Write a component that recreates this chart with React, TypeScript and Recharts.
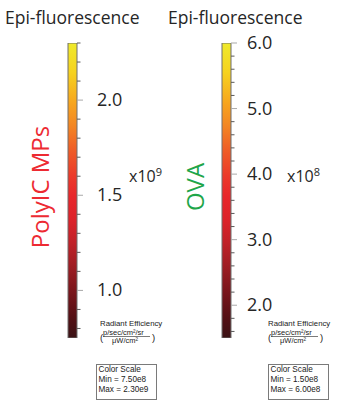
import { BarChart, Bar, XAxis, YAxis } from "recharts";

// PolyIC MPs colour bar (x10^9)
const POLY_RANGE = [0.75, 2.3];
const POLY_TICKS = [0.8, 0.9, 1.0, 1.1, 1.2, 1.3, 1.4, 1.5, 1.6, 1.7, 1.8, 1.9, 2.0, 2.1, 2.2, 2.3];
const POLY_MAJOR = [1.0, 1.5, 2.0];
const POLY_MINMAX = ["7.50e8", "2.30e9"];

// OVA colour bar (x10^8)
const OVA_RANGE = [1.5, 6.0];
const OVA_TICKS = [1.6, 1.8, 2.0, 2.2, 2.4, 2.6, 2.8, 3.0, 3.2, 3.4, 3.6, 3.8, 4.0, 4.2, 4.4, 4.6, 4.8, 5.0, 5.2, 5.4, 5.6, 5.8, 6.0];
const OVA_MAJOR = [2.0, 3.0, 4.0, 5.0, 6.0];
const OVA_MINMAX = ["1.50e8", "6.00e8"];

const FONT = "'Open Sans', 'Noto Sans', sans-serif";
const SMALL = "'Liberation Sans', Arial, sans-serif";

const GRAD_STOPS: [string, string][] = [
    ["0%", "#efea2b"],
    ["10%", "#f6d21f"],
    ["20%", "#f7a61e"],
    ["28%", "#f38623"],
    ["36%", "#ef5e27"],
    ["45%", "#eb3a2a"],
    ["52%", "#e8262b"],
    ["60%", "#dc222a"],
    ["68%", "#bf2128"],
    ["77%", "#981c22"],
    ["86%", "#72141a"],
    ["93%", "#541015"],
    ["100%", "#3a1215"],
];

function makeTick(majors: number[], dx: number) {
    return (props: any) => {
        const { x, y, payload } = props;
        const v = payload.value as number;
        const major = majors.some((m) => Math.abs(m - v) < 1e-6);
        return (
            <g>
                <line x1={x} x2={x + (major ? 6 : 3.5)} y1={y} y2={y} stroke={major ? "#a9a9a9" : "#5a5a5a"} strokeWidth={1} />
                {major ? (
                    <text x={x + dx} y={y} dy={-1} dominantBaseline="central" fontFamily={FONT} fontSize={18} fill="#262626">
                        {v.toFixed(1)}
                    </text>
                ) : null}
            </g>
        );
    };
}

function ColorBar({ left, range, ticks, majors, dx, id }: { left: number; range: number[]; ticks: number[]; majors: number[]; dx: number; id: string }) {
    const data = [{ name: id, range }];
    return (
        <div style={{ position: "absolute", left, top: 30 }}>
            <BarChart width={100} height={313} data={data} margin={{ top: 13, right: 0, bottom: 5, left: 28 }} barCategoryGap={0}>
                <defs>
                    <linearGradient id={id} x1="0" y1="0" x2="0" y2="1">
                        {GRAD_STOPS.map(([o, c]) => (
                            <stop key={o} offset={o} stopColor={c} />
                        ))}
                    </linearGradient>
                </defs>
                <XAxis dataKey="name" hide />
                <YAxis
                    orientation="right"
                    type="number"
                    domain={range}
                    ticks={ticks}
                    interval={0}
                    width={63}
                    tickLine={false}
                    axisLine={false}
                    tickSize={0}
                    tickMargin={0}
                    tick={makeTick(majors, dx)}
                    allowDataOverflow
                />
                <Bar dataKey="range" fill={`url(#${id})`} stroke="#6e6e6e" strokeWidth={1} isAnimationActive={false} />
            </BarChart>
        </div>
    );
}

function Units({ x, boxX, minmax }: { x: number; boxX: number; minmax: string[] }) {
    return (
        <g fontFamily={SMALL} fill="#222">
            <text x={x} y={325.5} fontSize={7.8}>Radiant Efficiency</text>
            <text x={x} y={340.5} fontSize={9.5}>(</text>
            <text x={x + 3} y={335} fontSize={7.5}>p/sec/cm²/sr</text>
            <line x1={x + 3} x2={x + 50} y1={336.5} y2={336.5} stroke="#222" strokeWidth={0.6} />
            <text x={x + 12} y={343} fontSize={7.5}>μW/cm²</text>
            <text x={x + 52} y={340.5} fontSize={9.5}>)</text>
            <rect x={boxX + 0.5} y={364.5} width={60} height={35} fill="#fff" stroke="#7a7a7a" />
            <text x={boxX + 2.5} y={372} fontSize={8.2}>Color Scale</text>
            <text x={boxX + 2.5} y={382} fontSize={8.2}>Min = {minmax[0]}</text>
            <text x={boxX + 2.5} y={392} fontSize={8.2}>Max = {minmax[1]}</text>
        </g>
    );
}

export default function App() {
    return (
        <div style={{ position: "absolute", left: 0, top: 0, width: 343, height: 403, background: "#fff" }}>
            <ColorBar left={40} range={POLY_RANGE} ticks={POLY_TICKS} majors={POLY_MAJOR} dx={20} id="gradPoly" />
            <ColorBar left={194} range={OVA_RANGE} ticks={OVA_TICKS} majors={OVA_MAJOR} dx={16} id="gradOva" />
            <svg width={343} height={403} style={{ position: "absolute", left: 0, top: 0, pointerEvents: "none" }}>
                <text x={5} y={24} fontFamily={FONT} fontSize={17.5} fill="#262626">Epi-fluorescence</text>
                <text x={168} y={24} fontFamily={FONT} fontSize={17.5} fill="#262626">Epi-fluorescence</text>

                <text transform="translate(49,187) rotate(-90)" textAnchor="middle" fontFamily={FONT} fontSize={24} fill="#ed2a32">PolyIC MPs</text>
                <text transform="translate(204,187) rotate(-90)" textAnchor="middle" fontFamily={FONT} fontSize={24} fill="#1fa64a">OVA</text>

                <text x={129} y={182} fontFamily={FONT} fontSize={16} fill="#262626">
                    x10<tspan fontSize={11} dy={-6}>9</tspan>
                </text>
                <text x={287} y={182} fontFamily={FONT} fontSize={16} fill="#262626">
                    x10<tspan fontSize={11} dy={-6}>8</tspan>
                </text>

                <Units x={100} boxX={96} minmax={POLY_MINMAX} />
                <Units x={268} boxX={268} minmax={OVA_MINMAX} />
            </svg>
        </div>
    );
}
